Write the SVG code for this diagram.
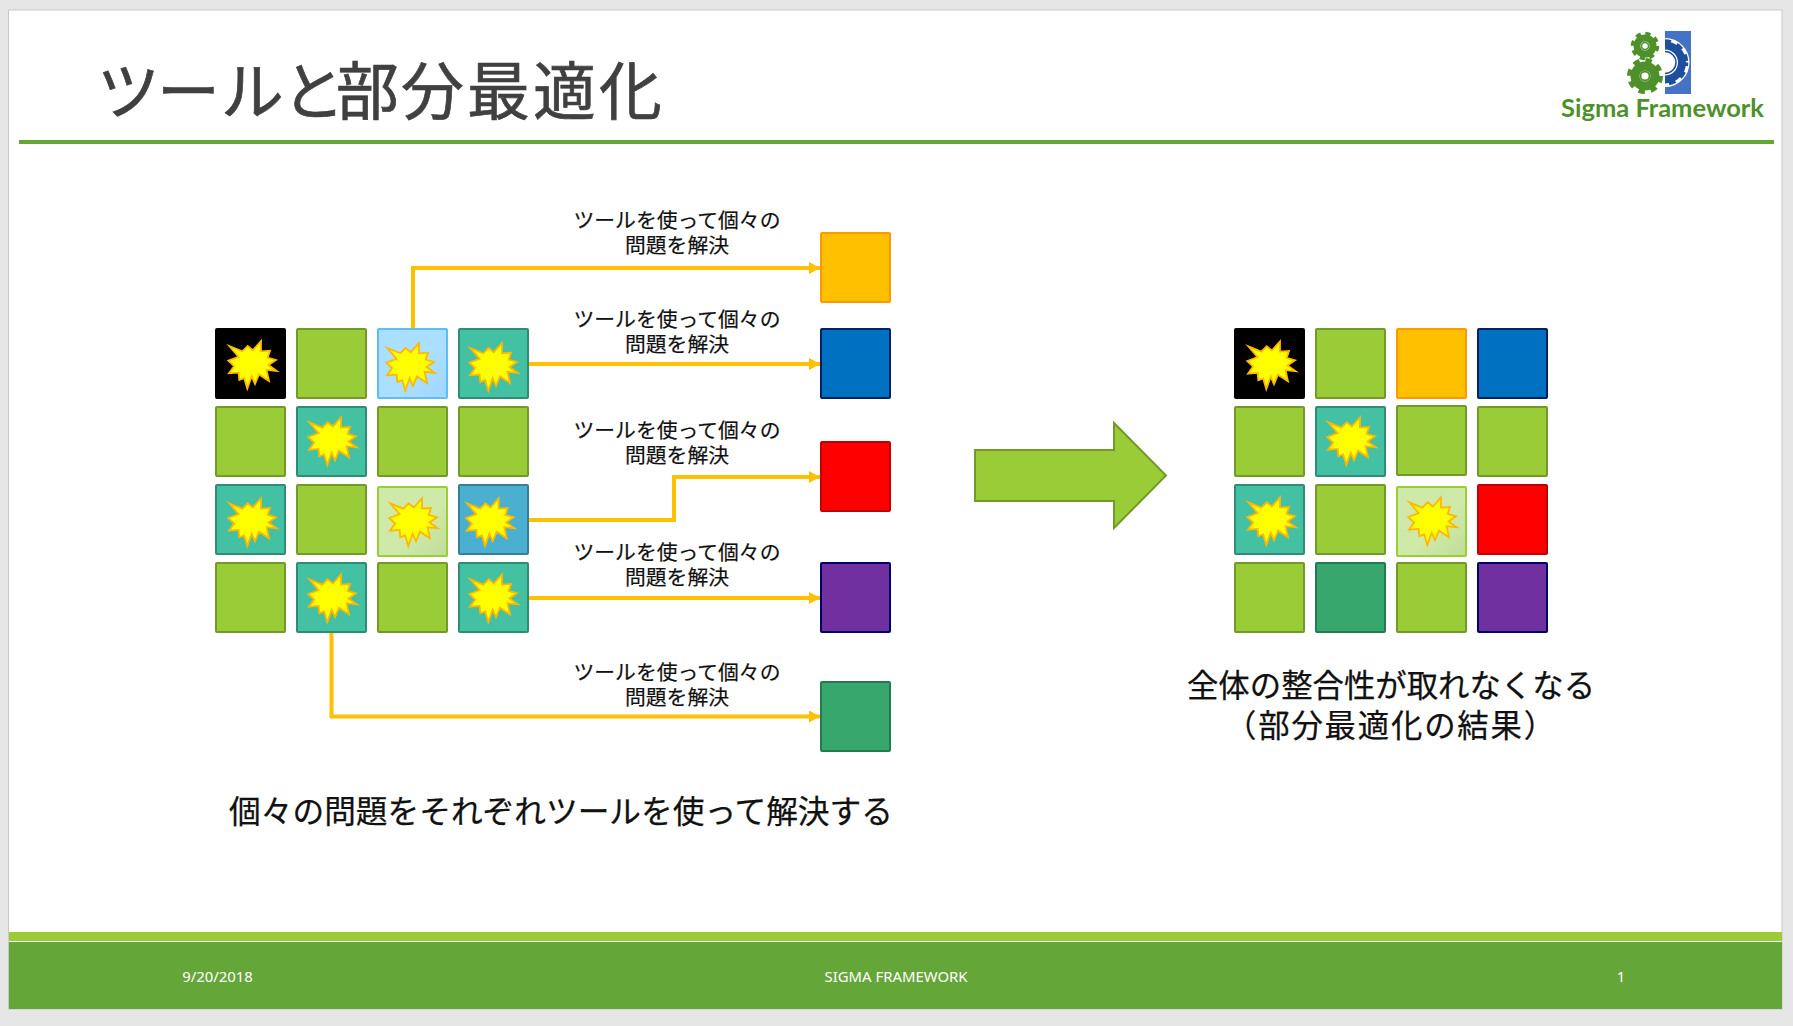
<svg xmlns="http://www.w3.org/2000/svg" width="1793" height="1026" viewBox="0 0 1793 1026">
<style>
.jp{font-family:"Noto Sans CJK JP","Noto Sans",sans-serif}
.lat{font-family:"Noto Sans","Open Sans",sans-serif}
.cap{font-size:20.8px;fill:#111;text-anchor:middle;stroke:#111;stroke-width:.2}
.big{font-size:31.7px;fill:#111;text-anchor:middle;stroke:#111;stroke-width:.25}
.foot{font-size:14.9px;fill:#fff;text-anchor:middle}
.c{stroke-width:2}
.g{fill:#9ACC37;stroke:#739A28}
.t{fill:#44C1A3;stroke:#2F8D77}
.k{fill:#000;stroke:#000}
.b{fill:url(#lb);stroke:#5BBFF5}
.p{fill:url(#lg);stroke:#9ACD37}
.m{fill:#4BAFD0;stroke:#347F9A}
.o{fill:#FFC000;stroke:#FF9900}
.n{fill:#0070C0;stroke:#002060}
.r{fill:#FF0000;stroke:#C00000}
.v{fill:#7030A0;stroke:#000066}
.e{fill:#38A76D;stroke:#257B50}
.s{fill:#FFFF00;stroke:#FFB800;stroke-width:1.8;stroke-miterlimit:10;stroke-linejoin:miter}
.l{fill:none;stroke:#FFC000;stroke-width:4;marker-end:url(#ah)}
</style>
<defs>
<linearGradient id="lb" x1="0" y1="0" x2="1" y2="1"><stop offset="0.6" stop-color="#ABDFFF"/><stop offset="1" stop-color="#9FD6FF"/></linearGradient>
<linearGradient id="lg" x1="0" y1="0" x2="1" y2="1"><stop offset="0.6" stop-color="#CFE9A8"/><stop offset="1" stop-color="#BEDE98"/></linearGradient>
<marker id="ah" markerUnits="userSpaceOnUse" markerWidth="12" markerHeight="12" refX="11" refY="6" orient="auto"><path d="M0 0L11 6L0 12Z" fill="#FFC000"/></marker>
<polygon id="star" class="s" points="14.3,18 27.3,23.3 32.7,18 37.8,22.2 46,13 46,23.3 55,22.7 52.700,29.6 61,32 53.5,37.1 61.7,43 51.6,41.9 54,53 44,46.4 40,56 36.7,48.3 32.3,60.7 29.2,50.2 24.3,52 23.6,44.6 14,45.3 19.1,38.2 13.3,32.7 23.6,28.9"/>
<clipPath id="halfR"><rect x="1665" y="31" width="26" height="63"/></clipPath>
</defs>

<rect width="1793" height="1026" fill="#E6E6E6"/>
<rect id="slide" x="8.500" y="10" width="1773.500" height="999" fill="#fff" stroke="#C8C8C8" stroke-width="1"/>

<g id="title">
<text class="jp" x="97 157 221 282 336 401 467 533 599" y="114" font-size="62.800" fill="#404040" stroke="#404040" stroke-width=".7">ツールと部分最適化</text>
<rect x="19" y="140" width="1755" height="4" fill="#65A639"/>
</g>

<g id="logo">
<rect x="1665" y="31" width="26" height="63" fill="#4472C4"/>
<g clip-path="url(#halfR)">
<circle cx="1665" cy="62.500" r="24.500" fill="#fff"/>
<circle cx="1665" cy="62.500" r="17" fill="none" stroke="#1F4E9E" stroke-width="8"/>
<circle cx="1665" cy="62.500" r="21" fill="none" stroke="#1F4E9E" stroke-width="4.500" stroke-dasharray="6.500 6.100" stroke-dashoffset="3"/>
<circle cx="1665" cy="62.500" r="11" fill="none" stroke="#1F4E9E" stroke-width="1.500"/>
</g>
<g fill="none" stroke="#4E9029">
<circle cx="1645" cy="46" r="8" stroke-width="7"/>
<circle cx="1645" cy="46" r="12" stroke-width="4.500" stroke-dasharray="5 4.420"/>
<circle cx="1645" cy="46" r="3.500" stroke-width="1.500"/>
<circle cx="1645" cy="76" r="10" stroke-width="9"/>
<circle cx="1645" cy="76" r="15.500" stroke-width="5" stroke-dasharray="6.300 5.870"/>
<circle cx="1645" cy="76" r="4.500" stroke-width="1.800"/>
</g>
<text x="1561" y="117" font-family="Lato,'Open Sans',sans-serif" font-size="25" font-weight="700" fill="#4E9029" textLength="203" lengthAdjust="spacingAndGlyphs">Sigma Framework</text>
</g>

<g id="connectors">
<path class="l" d="M413 328V268H820"/>
<path class="l" d="M529 364H820"/>
<path class="l" d="M529 520H674V477H820"/>
<path class="l" d="M529 598H820"/>
<path class="l" d="M331.500 633V716.500H820"/>
</g>

<g id="left-grid">
<g id="l11"><rect class="c k" x="216" y="329" width="69" height="69" rx="1"/><use href="#star" transform="translate(215 328)"/></g>
<g id="l12"><rect class="c g" x="297" y="329" width="69" height="69" rx="1"/></g>
<g id="l13"><rect class="c b" x="378" y="329" width="69" height="69" rx="1"/><use href="#star" transform="translate(373 330)"/></g>
<g id="l14"><rect class="c t" x="459" y="329" width="69" height="69" rx="1"/><use href="#star" transform="translate(456 330)"/></g>
<g id="l21"><rect class="c g" x="216" y="407" width="69" height="69" rx="1"/></g>
<g id="l22"><rect class="c t" x="297" y="407" width="69" height="69" rx="1"/><use href="#star" transform="translate(295 404.300)"/></g>
<g id="l23"><rect class="c g" x="378" y="407" width="69" height="69" rx="1"/></g>
<g id="l24"><rect class="c g" x="459" y="407" width="69" height="69" rx="1"/></g>
<g id="l31"><rect class="c t" x="216" y="485" width="69" height="69" rx="1"/><use href="#star" transform="translate(215 485.300)"/></g>
<g id="l32"><rect class="c g" x="297" y="485" width="69" height="69" rx="1"/></g>
<g id="l33"><rect class="c p" x="378" y="487" width="69" height="69" rx="1"/><use href="#star" transform="translate(376 485.300)"/></g>
<g id="l34"><rect class="c m" x="459" y="485" width="69" height="69" rx="1"/><use href="#star" transform="translate(452.700 485.300)"/></g>
<g id="l41"><rect class="c g" x="216" y="563" width="69" height="69" rx="1"/></g>
<g id="l42"><rect class="c t" x="297" y="563" width="69" height="69" rx="1"/><use href="#star" transform="translate(295 561.300)"/></g>
<g id="l43"><rect class="c g" x="378" y="563" width="69" height="69" rx="1"/></g>
<g id="l44"><rect class="c t" x="459" y="563" width="69" height="69" rx="1"/><use href="#star" transform="translate(456 561.300)"/></g>
</g>

<g id="targets">
<rect id="t1" class="c o" x="821" y="233" width="69" height="69" rx="1"/>
<rect id="t2" class="c n" x="821" y="329" width="69" height="69" rx="1"/>
<rect id="t3" class="c r" x="821" y="442" width="69" height="69" rx="1"/>
<rect id="t4" class="c v" x="821" y="563" width="69" height="69" rx="1"/>
<rect id="t5" class="c e" x="821" y="682" width="69" height="69" rx="1"/>
</g>

<g id="captions" class="jp">
<text id="cap1" class="cap" x="677" y="227.500">ツールを使って個々の<tspan x="677" dy="25">問題を解決</tspan></text>
<text id="cap2" class="cap" x="677" y="326.500">ツールを使って個々の<tspan x="677" dy="25">問題を解決</tspan></text>
<text id="cap3" class="cap" x="677" y="437.500">ツールを使って個々の<tspan x="677" dy="25">問題を解決</tspan></text>
<text id="cap4" class="cap" x="677" y="560">ツールを使って個々の<tspan x="677" dy="25">問題を解決</tspan></text>
<text id="cap5" class="cap" x="677" y="680">ツールを使って個々の<tspan x="677" dy="25">問題を解決</tspan></text>
<text class="big" x="561" y="823">個々の問題をそれぞれツールを使って解決する</text>
</g>

<g id="big-arrow"><path d="M975 450H1114V423L1166 475.500L1114 528V501H975Z" fill="#9ACC37" stroke="#739A28" stroke-width="2"/></g>

<g id="right-grid">
<g id="r11"><rect class="c k" x="1235" y="329" width="69" height="69" rx="1"/><use href="#star" transform="translate(1234 328.300)"/></g>
<g id="r12"><rect class="c g" x="1316" y="329" width="69" height="69" rx="1"/></g>
<g id="r13"><rect class="c o" x="1397" y="329" width="69" height="69" rx="1"/></g>
<g id="r14"><rect class="c n" x="1478" y="329" width="69" height="69" rx="1"/></g>
<g id="r21"><rect class="c g" x="1235" y="407" width="69" height="69" rx="1"/></g>
<g id="r22"><rect class="c t" x="1316" y="407" width="69" height="69" rx="1"/><use href="#star" transform="translate(1314 404.300)"/></g>
<g id="r23"><rect class="c g" x="1397" y="406" width="69" height="69" rx="1"/></g>
<g id="r24"><rect class="c g" x="1478" y="407" width="69" height="69" rx="1"/></g>
<g id="r31"><rect class="c t" x="1235" y="485" width="69" height="69" rx="1"/><use href="#star" transform="translate(1234 484.300)"/></g>
<g id="r32"><rect class="c g" x="1316" y="485" width="69" height="69" rx="1"/></g>
<g id="r33"><rect class="c p" x="1397" y="487" width="69" height="69" rx="1"/><use href="#star" transform="translate(1395 484.300)"/></g>
<g id="r34"><rect class="c r" x="1478" y="485" width="69" height="69" rx="1"/></g>
<g id="r41"><rect class="c g" x="1235" y="563" width="69" height="69" rx="1"/></g>
<g id="r42"><rect class="c e" x="1316" y="563" width="69" height="69" rx="1"/></g>
<g id="r43"><rect class="c g" x="1397" y="563" width="69" height="69" rx="1"/></g>
<g id="r44"><rect class="c v" x="1478" y="563" width="69" height="69" rx="1"/></g>
</g>

<g id="result" class="jp">
<text class="big" x="1391" y="697" style="font-size:31.4px">全体の整合性が取れなくなる<tspan x="1391" dy="40" letter-spacing="1.8">（部分最適化の結果）</tspan></text>
</g>

<g id="footer">
<rect x="9" y="932" width="1773" height="9" fill="#9ACC37"/>
<rect x="9" y="942" width="1773" height="67" fill="#65A639"/>
<text class="lat foot" x="217.500" y="982">9/20/2018</text>
<text class="lat foot" x="896" y="982">SIGMA FRAMEWORK</text>
<text class="lat foot" x="1621" y="982">1</text>
</g>
</svg>
